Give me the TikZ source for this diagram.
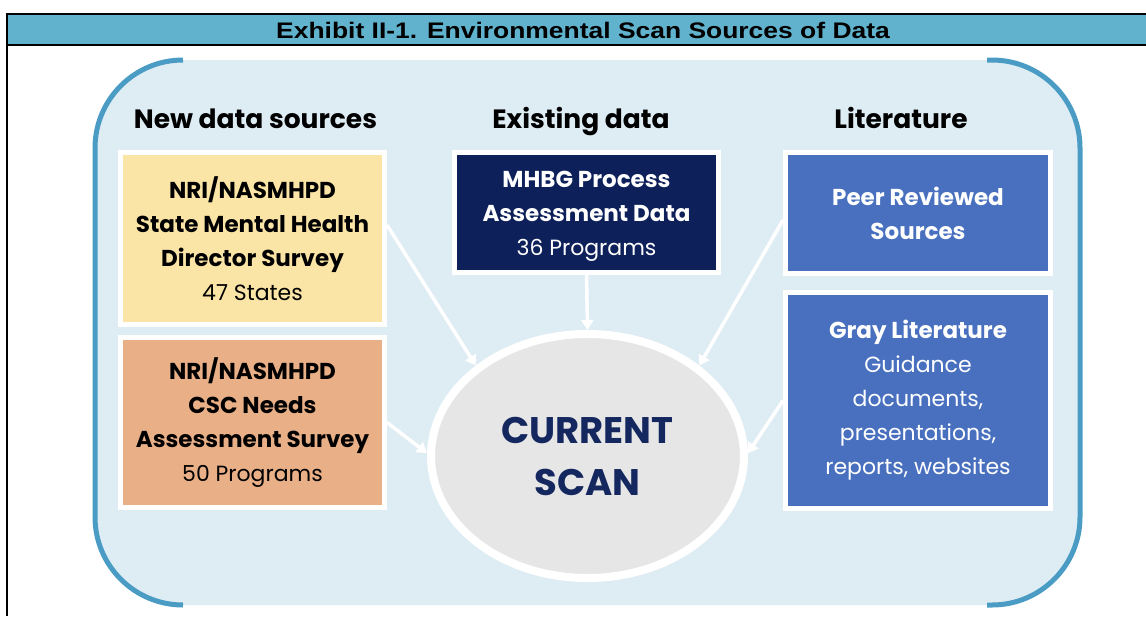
\documentclass[tikz,border=0pt]{standalone}
\usepackage{fontspec}
\setmainfont{Liberation Sans}
\newfontfamily\fut{Poppins}
\usetikzlibrary{arrows.meta,shapes.geometric,calc}
\definecolor{hdr}{RGB}{96,178,205}
\definecolor{paleblue}{RGB}{222,236,244}
\definecolor{arcblue}{RGB}{74,156,196}
\definecolor{ybox}{RGB}{251,229,166}
\definecolor{obox}{RGB}{233,176,136}
\definecolor{navy}{RGB}{13,32,90}
\definecolor{midblue}{RGB}{72,112,191}
\definecolor{scangray}{RGB}{230,230,230}
\definecolor{scantext}{RGB}{20,40,95}
\newcommand{\bl}[1]{{\bfseries\fontsize{23}{34}\selectfont #1}}
\begin{document}
\begin{tikzpicture}[x=1pt,y=-1pt,
  srcbox/.style={draw=white, line width=5pt, inner sep=0pt, align=center,
    font=\fut\fontsize{22}{34}\selectfont},
  boxtext/.style={inner sep=0pt, align=center, font=\fut\fontsize{22}{34}\selectfont},
  colhead/.style={anchor=base, font=\fut\bfseries\fontsize{26.5}{30}\selectfont, text=black},
  flow/.style={draw=white, line width=3.5pt, -{Triangle[width=12pt,length=10pt]}}]
\useasboundingbox (0,0) rectangle (1146,616);
% table frame and header
\fill[hdr] (7,14) rectangle (1146,45);
\draw[line width=2pt] (1146,14) -- (7,14) -- (7,616);
\draw[line width=2pt] (7,45) -- (1146,45);
\node[anchor=base, font=\bfseries\fontsize{22.5}{25}\selectfont] (title) at (583,38)
  {\scalebox{1.175}[1]{Exhibit II-1. Environmental Scan Sources of Data}};
% rounded panel
\fill[paleblue, rounded corners=88pt] (95,60) rectangle (1080,605);
\draw[arcblue, line width=5pt, rounded corners=88pt] (183,60) -- (95,60) -- (95,605) -- (183,605);
\draw[arcblue, line width=5pt, rounded corners=88pt] (987,60) -- (1080,60) -- (1080,605) -- (987,605);
% column headings
\node[colhead] (h1) at (255.5,128) {New data sources};
\node[colhead] (h2) at (581,128) {Existing data};
\node[colhead] (h3) at (901,128) {Literature};
% source boxes
\node[srcbox, fill=ybox, minimum width=264, minimum height=172] (yb) at (252.5,238.5)
  {\bl{NRI/NASMHPD}\\ \bl{State Mental Health}\\ \bl{Director Survey}\\ 47 States};
\node[srcbox, fill=obox, minimum width=264, minimum height=170] (ob) at (252.5,422.5)
  {\bl{NRI/NASMHPD}\\ \bl{CSC Needs}\\ \bl{Assessment Survey}\\ 50 Programs};
\node[srcbox, fill=navy, minimum width=264, minimum height=120] (nb) at (586.5,212.5) {};
\node[boxtext, text=white] (nbt) at (586.5,216.5)
  {\bl{MHBG Process}\\ \bl{Assessment Data}\\ 36 Programs};
\node[srcbox, fill=midblue, text=white, minimum width=265, minimum height=121] (pb) at (918,213)
  {\bl{Peer Reviewed}\\ \bl{Sources}};
\node[srcbox, fill=midblue, text=white, minimum width=265, minimum height=216] (gb) at (918,400.5)
  {\bl{Gray Literature}\\ Guidance\\ documents,\\ presentations,\\ reports, websites};
% current scan
\node[ellipse, draw=white, line width=8pt, fill=scangray, inner sep=0pt,
  minimum width=313, minimum height=244, align=center, text=scantext,
  font=\fut\bfseries\fontsize{37}{52}\selectfont] (scan) at (587.5,456) {CURRENT\\SCAN};
% arrows
\draw[flow] ($(yb.east)+(0,-13.5)$) -- (scan.141);
\draw[flow] (ob.east) -- (scan.179);
\draw[flow] (nb.south) -- (scan.90);
\draw[flow] ($(pb.west)+(0,7)$) -- (scan.39);
\draw[flow] (gb.west) -- (scan.1.5);
\end{tikzpicture}
\end{document}
